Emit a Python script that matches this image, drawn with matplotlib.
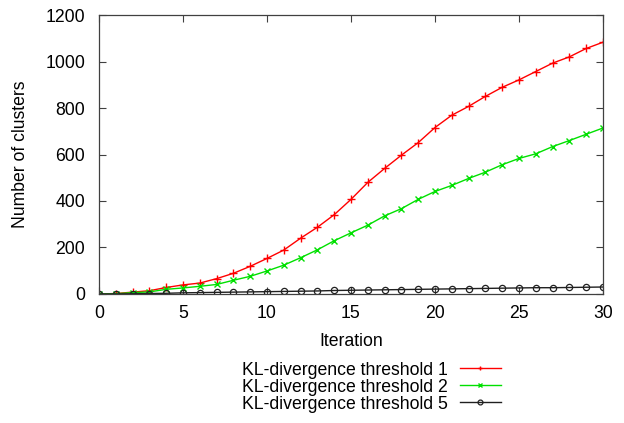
import matplotlib
matplotlib.use("Agg")
import matplotlib.pyplot as plt

plt.rcParams["font.family"] = ["Liberation Sans", "DejaVu Sans"]
plt.rcParams["font.size"] = 12.7

# Iterations 0..30
iterations = list(range(31))

# Number of clusters per KL-divergence threshold
kl_1 = [0, 2, 8, 14, 28, 39, 47, 66, 89, 119, 153, 189, 240, 287, 341, 407,
        480, 540, 597, 651, 716, 769, 807, 850, 889, 921, 957, 993, 1020,
        1056, 1083]
kl_2 = [0, 1, 6, 9, 20, 26, 33, 41, 59, 76, 99, 124, 156, 190, 229, 263,
        296, 336, 367, 407, 441, 467, 497, 524, 556, 583, 603, 634, 660,
        687, 714]
kl_5 = [0, 0, 1, 2, 3, 5, 6, 7, 8, 9, 10, 11, 12, 13, 15, 16, 17, 18, 19,
        20, 21, 22, 23, 24, 25, 26, 27, 27, 28, 29, 30]

labels = ["KL-divergence threshold 1", "KL-divergence threshold 2",
          "KL-divergence threshold 5"]

fig = plt.figure(figsize=(6.24, 4.23), dpi=100)
ax = fig.add_axes([0.1587, 0.305, 0.8076, 0.6595])

ax.plot(iterations, kl_1, color="#ff0000", lw=1, marker="+", ms=5.5,
        mew=1, label=labels[0])
ax.plot(iterations, kl_2, color="#00e000", lw=1, marker="x", ms=4.5,
        mew=1, label=labels[1])
ax.plot(iterations, kl_5, color="#202020", lw=1, marker="o", ms=4.5,
        mfc="none", mew=0.9, label=labels[2])

ax.set_xlim(0, 30)
ax.set_ylim(0, 1200)
ax.set_xticks(range(0, 31, 5))
ax.set_yticks(range(0, 1201, 200))
ax.tick_params(direction="in", top=True, right=True, length=5,
               width=0.8, color="#404040", pad=8)
ax.tick_params(axis="y", pad=10)
for s in ax.spines.values():
    s.set_color("#404040")
    s.set_linewidth(0.9)

ax.set_xlabel("Iteration", labelpad=8)
ax.set_ylabel("Number of clusters", labelpad=12)

leg = fig.legend(loc="center", bbox_to_anchor=(0.595, 0.085),
                 markerfirst=False, frameon=False, handlelength=2.3,
                 handletextpad=0.7, labelspacing=0.0, borderpad=0,
                 fontsize=12.7)
for h in leg.legend_handles:
    h.set_markersize(3.5)

fig.savefig("out.png", dpi=100)
